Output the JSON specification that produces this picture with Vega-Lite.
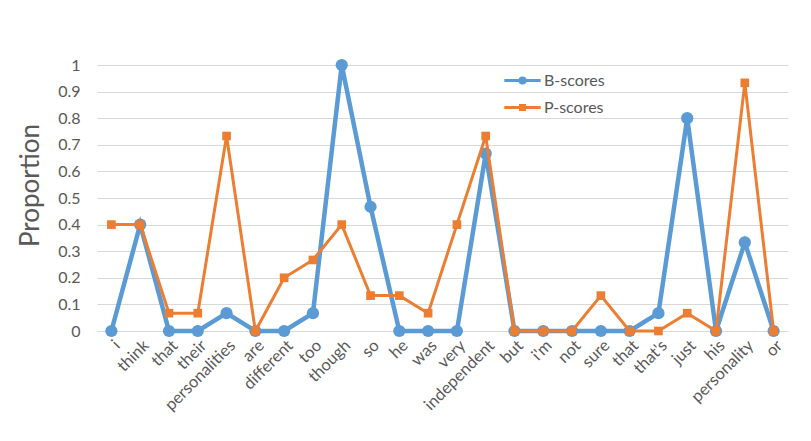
{
  "$schema": "https://vega.github.io/schema/vega-lite/v6.json",
  "width": 691,
  "height": 266,
  "autosize": {"type": "none"},
  "padding": {"left": 97, "top": 65, "right": 23, "bottom": 110},
  "background": "white",
  "config": {
    "font": "Lato",
    "view": {"stroke": null},
    "axis": {"labelColor": "#595959", "titleColor": "#595959", "labelFont": "Lato", "titleFont": "Lato"}
  },
  "data": {"values": [
    {"token": "01|i", "series": "B-scores", "value": 0},
    {"token": "02|think", "series": "B-scores", "value": 0.4},
    {"token": "03|that", "series": "B-scores", "value": 0},
    {"token": "04|their", "series": "B-scores", "value": 0},
    {"token": "05|personalities", "series": "B-scores", "value": 0.067},
    {"token": "06|are", "series": "B-scores", "value": 0},
    {"token": "07|different", "series": "B-scores", "value": 0},
    {"token": "08|too", "series": "B-scores", "value": 0.067},
    {"token": "09|though", "series": "B-scores", "value": 1},
    {"token": "10|so", "series": "B-scores", "value": 0.467},
    {"token": "11|he", "series": "B-scores", "value": 0},
    {"token": "12|was", "series": "B-scores", "value": 0},
    {"token": "13|very", "series": "B-scores", "value": 0},
    {"token": "14|independent", "series": "B-scores", "value": 0.667},
    {"token": "15|but", "series": "B-scores", "value": 0},
    {"token": "16|i'm", "series": "B-scores", "value": 0},
    {"token": "17|not", "series": "B-scores", "value": 0},
    {"token": "18|sure", "series": "B-scores", "value": 0},
    {"token": "19|that", "series": "B-scores", "value": 0},
    {"token": "20|that's", "series": "B-scores", "value": 0.067},
    {"token": "21|just", "series": "B-scores", "value": 0.8},
    {"token": "22|his", "series": "B-scores", "value": 0},
    {"token": "23|personality", "series": "B-scores", "value": 0.333},
    {"token": "24|or", "series": "B-scores", "value": 0},
    {"token": "01|i", "series": "P-scores", "value": 0.4},
    {"token": "02|think", "series": "P-scores", "value": 0.4},
    {"token": "03|that", "series": "P-scores", "value": 0.067},
    {"token": "04|their", "series": "P-scores", "value": 0.067},
    {"token": "05|personalities", "series": "P-scores", "value": 0.733},
    {"token": "06|are", "series": "P-scores", "value": 0},
    {"token": "07|different", "series": "P-scores", "value": 0.2},
    {"token": "08|too", "series": "P-scores", "value": 0.267},
    {"token": "09|though", "series": "P-scores", "value": 0.4},
    {"token": "10|so", "series": "P-scores", "value": 0.133},
    {"token": "11|he", "series": "P-scores", "value": 0.133},
    {"token": "12|was", "series": "P-scores", "value": 0.067},
    {"token": "13|very", "series": "P-scores", "value": 0.4},
    {"token": "14|independent", "series": "P-scores", "value": 0.733},
    {"token": "15|but", "series": "P-scores", "value": 0},
    {"token": "16|i'm", "series": "P-scores", "value": 0},
    {"token": "17|not", "series": "P-scores", "value": 0},
    {"token": "18|sure", "series": "P-scores", "value": 0.133},
    {"token": "19|that", "series": "P-scores", "value": 0},
    {"token": "20|that's", "series": "P-scores", "value": 0},
    {"token": "21|just", "series": "P-scores", "value": 0.067},
    {"token": "22|his", "series": "P-scores", "value": 0},
    {"token": "23|personality", "series": "P-scores", "value": 0.933},
    {"token": "24|or", "series": "P-scores", "value": 0}
  ]},
  "encoding": {
    "x": {
      "field": "token", "type": "ordinal", "sort": "ascending",
      "scale": {"type": "point", "padding": 0.5},
      "axis": {
        "title": null, "labelAngle": -45, "labelAlign": "right", "labelBaseline": "top",
        "labelExpr": "substring(datum.value, 3)", "labelFontSize": 16.5, "labelPadding": 6,
        "ticks": false, "domain": true, "domainColor": "#d9d9d9", "grid": false
      }
    },
    "y": {
      "field": "value", "type": "quantitative",
      "scale": {"domain": [0, 1]},
      "axis": {
        "title": "Proportion", "titleFontSize": 26, "titleFontWeight": "normal", "titlePadding": 14,
        "titleY": 120,
        "values": [0, 0.1, 0.2, 0.3, 0.4, 0.5, 0.6, 0.7, 0.8, 0.9, 1], "format": ".1~f",
        "labelFontSize": 16, "labelPadding": 17, "ticks": false, "domain": false,
        "gridColor": "#d9d9d9", "gridWidth": 1
      }
    },
    "color": {
      "field": "series", "type": "nominal",
      "scale": {"domain": ["B-scores", "P-scores"], "range": ["#5B9BD5", "#ED7D31"]},
      "legend": {
        "title": null, "orient": "none", "legendX": 410, "legendY": 0,
        "labelFontSize": 16, "labelColor": "#595959", "labelFont": "Lato",
        "symbolSize": 784, "symbolStrokeWidth": 3, "rowPadding": 2, "labelOffset": 6,
        "encode": {
          "symbols": {"update": {
            "shape": {"signal": "datum.value === 'B-scores' ? 'M-1.3,0H1.3M-0.18,0A0.18,0.18,0,1,0,0.18,0A0.18,0.18,0,1,0,-0.18,0Z' : 'M-1.3,0H1.3M-0.14,-0.14H0.14V0.14H-0.14Z'"},
            "size": {"value": 784},
            "fill": {"signal": "datum.value === 'B-scores' ? '#5B9BD5' : '#ED7D31'"},
            "stroke": {"signal": "datum.value === 'B-scores' ? '#5B9BD5' : '#ED7D31'"},
            "strokeWidth": {"value": 3},
            "opacity": {"value": 1}
          }}
        }
      }
    }
  },
  "layer": [
    {"transform": [{"filter": "datum.series === 'B-scores'"}], "mark": {"type": "line", "strokeWidth": 4.5}},
    {"transform": [{"filter": "datum.series === 'B-scores'"}], "mark": {"type": "point", "shape": "circle", "filled": true, "opacity": 1, "size": 150}},
    {"transform": [{"filter": "datum.series === 'P-scores'"}], "mark": {"type": "line", "strokeWidth": 3}},
    {"transform": [{"filter": "datum.series === 'P-scores'"}], "mark": {"type": "point", "shape": "square", "filled": true, "opacity": 1, "size": 75}}
  ]
}
